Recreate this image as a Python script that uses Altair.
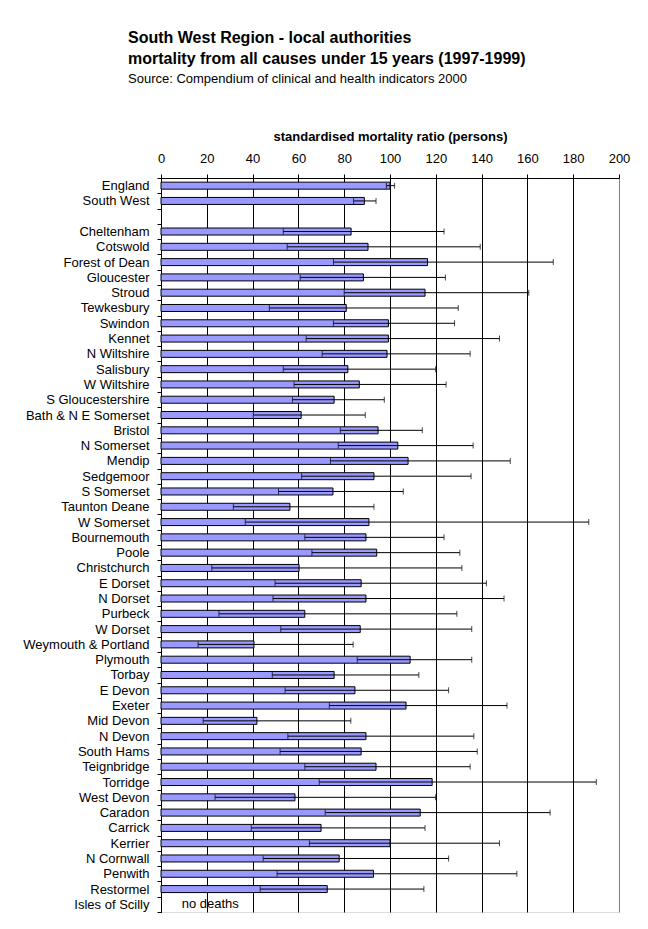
import altair as alt
import pandas as pd

# Local authorities in display order (blank row separates the summary rows)
areas = [
    "England", "South West", " ",
    "Cheltenham", "Cotswold", "Forest of Dean", "Gloucester", "Stroud",
    "Tewkesbury", "Swindon", "Kennet", "N Wiltshire", "Salisbury",
    "W Wiltshire", "S Gloucestershire", "Bath & N E Somerset", "Bristol",
    "N Somerset", "Mendip", "Sedgemoor", "S Somerset", "Taunton Deane",
    "W Somerset", "Bournemouth", "Poole", "Christchurch", "E Dorset",
    "N Dorset", "Purbeck", "W Dorset", "Weymouth & Portland", "Plymouth",
    "Torbay", "E Devon", "Exeter", "Mid Devon", "N Devon", "South Hams",
    "Teignbridge", "Torridge", "West Devon", "Caradon", "Carrick", "Kerrier",
    "N Cornwall", "Penwith", "Restormel", "Isles of Scilly",
]

# Standardised mortality ratio with 95% confidence limits
smr = [
    100, 88.8, None,
    83.0, 90.4, 116.4, 88.4, 115.3,
    80.9, 99.3, 99.3, 98.7, 81.6,
    86.6, 75.6, 61.2, 94.8,
    103.4, 107.9, 93.0, 75.1, 56.3,
    90.8, 89.5, 94.2, 60.3, 87.4,
    89.5, 62.8, 87.0, 40.6, 108.8,
    75.6, 84.7, 107.0, 41.9, 89.5, 87.4,
    93.9, 118.4, 58.5, 113.2, 69.9, 100.0,
    77.8, 92.8, 72.6, None,
]
lower = [
    98.4, 84.1, None,
    53.4, 55.1, 75.3, 60.8, 80.0,
    47.3, 75.3, 63.4, 70.4, 53.4,
    58.1, 57.4, 40.3, 78.3,
    77.4, 74.0, 61.4, 51.3, 31.6,
    36.8, 62.8, 65.9, 22.2, 49.8,
    48.9, 25.3, 52.3, 16.2, 85.7,
    48.6, 54.2, 73.5, 18.4, 55.4, 52.0,
    62.8, 69.1, 23.6, 71.7, 39.4, 64.8,
    44.6, 50.7, 43.3, None,
]
upper = [
    102.0, 93.9, None,
    123.6, 139.4, 171.3, 124.2, 160.6,
    129.8, 128.2, 147.8, 135.0, 119.9,
    124.5, 97.5, 89.2, 114.1,
    136.3, 152.5, 135.4, 105.8, 93.0,
    186.8, 123.6, 130.5, 131.4, 142.1,
    149.8, 129.2, 135.7, 83.9, 135.7,
    112.6, 125.6, 151.1, 82.9, 136.6, 138.1,
    135.0, 190.1, 119.9, 169.9, 115.3, 147.8,
    125.6, 155.4, 114.8, None,
]

# Note shown for the authority without any deaths
note_area = ["Isles of Scilly"]
note_text = ["no deaths"]
note_pos = [21.5]

x_ticks = list(range(0, 201, 20))

df = pd.DataFrame({"area": areas, "smr": smr, "lower": lower, "upper": upper})
notes = pd.DataFrame({"area": note_area, "text": note_text, "pos": note_pos})

FONT = "Liberation Sans"

x_scale = alt.Scale(domain=[0, 200], nice=False, zero=True)
y_enc = alt.Y(
    "area:N",
    sort=areas,
    scale=alt.Scale(domain=areas, paddingInner=0, paddingOuter=0),
    axis=alt.Axis(
        title=None,
        tickBand="extent",
        tickSize=4,
        tickColor="black",
        domainColor="black",
        labelPadding=8,
        labelFontSize=13,
        labelColor="black",
        labelFont=FONT,
        grid=False,
    ),
)

base = alt.Chart(df)

bars = base.mark_bar(size=7, fill="#9999FF", stroke="black", strokeWidth=1).encode(
    x=alt.X(
        "smr:Q",
        scale=x_scale,
        axis=alt.Axis(
            orient="top",
            values=x_ticks,
            title="standardised mortality ratio (persons)",
            titleFont=FONT,
            titleFontSize=13,
            titleFontWeight="bold",
            titleColor="black",
            titlePadding=9,
            labelFont=FONT,
            labelFontSize=13,
            labelColor="black",
            labelPadding=9,
            labelFlush=False,
            tickSize=4,
            tickColor="black",
            domainColor="black",
            grid=True,
            gridColor={"condition": {"test": "datum.value == 200", "value": "#808080"}, "value": "black"},
            gridOpacity=1,
        ),
    ),
    y=y_enc,
)

err = base.mark_rule(color="black", strokeWidth=1).encode(
    x=alt.X("lower:Q", scale=x_scale),
    x2="upper:Q",
    y=alt.Y("area:N", sort=areas),
)

cap_lo = base.mark_tick(color="black", size=6, thickness=1).encode(
    x=alt.X("lower:Q", scale=x_scale),
    y=alt.Y("area:N", sort=areas),
)
cap_hi = base.mark_tick(color="black", size=6, thickness=1).encode(
    x=alt.X("upper:Q", scale=x_scale),
    y=alt.Y("area:N", sort=areas),
)

note = alt.Chart(notes).mark_text(
    font=FONT, fontSize=13, color="black", align="center", baseline="middle"
).encode(
    x=alt.X("pos:Q", scale=x_scale),
    y=alt.Y("area:N", sort=areas),
    text="text:N",
)

chart = (
    alt.layer(bars, err, cap_lo, cap_hi, note)
    .properties(
        width=458,
        height=734,
        title=alt.TitleParams(
            text=[
                "South West Region - local authorities",
                "mortality from all causes under 15 years (1997-1999)",
            ],
            subtitle="Source: Compendium of clinical and health indicators 2000",
            font=FONT,
            fontSize=16,
            fontWeight="bold",
            color="black",
            lineHeight=21,
            subtitleFont=FONT,
            subtitleFontSize=13,
            subtitleColor="black",
            subtitlePadding=6,
            anchor="start",
            frame="group",
            dx=-33,
            offset=44,
        ),
        autosize=alt.AutoSizeParams(type="none"),
        padding={"left": 161, "top": 178, "right": 29, "bottom": 17},
    )
    .configure_view(stroke="#808080", strokeWidth=1)
    .configure(background="white")
)

chart.save("out.html", embed_options={"renderer": "svg", "actions": False})
